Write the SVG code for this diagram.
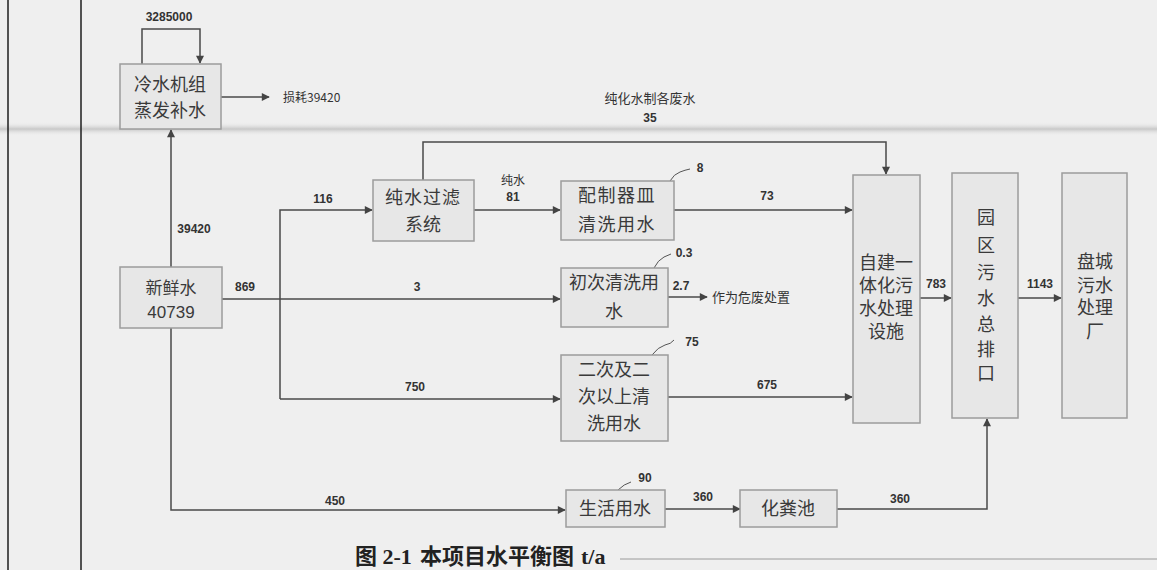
<svg xmlns="http://www.w3.org/2000/svg" width="1157" height="570" viewBox="0 0 1157 570">
<defs>
<marker id="ah" viewBox="0 0 10 10" refX="9" refY="5" markerWidth="10" markerHeight="8" markerUnits="userSpaceOnUse" orient="auto">
<path d="M0 0 L10 5 L0 10 z" fill="#444"/>
</marker>
<linearGradient id="band" x1="0" y1="0" x2="0" y2="1">
<stop offset="0" stop-color="#efefef" stop-opacity="0"/>
<stop offset="0.5" stop-color="#c8c8c8"/>
<stop offset="1" stop-color="#efefef" stop-opacity="0"/>
</linearGradient>
</defs>
<style>
.bx{fill:#e7e7e7;stroke:#9c9c9c;stroke-width:1.5}
.t{font-family:"Liberation Serif","Noto Sans CJK SC",serif;font-size:18px;fill:#3a3a3a;text-anchor:middle}
.n{font-family:"Liberation Sans","Noto Sans CJK SC",sans-serif;font-size:12px;fill:#333;text-anchor:middle;font-weight:bold}
.s{font-family:"Noto Sans CJK SC",sans-serif;font-size:13px;fill:#333}
.e{fill:none;stroke:#4a4a4a;stroke-width:1.5}
.c{fill:none;stroke:#555;stroke-width:1}
</style>
<rect width="1157" height="570" fill="#efefef"/>
<rect x="0" y="122" width="1157" height="14" fill="url(#band)"/>
<line x1="8" y1="0" x2="8" y2="570" stroke="#1e1e1e" stroke-width="1.5"/>
<line x1="81" y1="0" x2="81" y2="570" stroke="#1e1e1e" stroke-width="1.5"/>
<line x1="620" y1="559" x2="1157" y2="559" stroke="#9a9a9a" stroke-width="1"/>

<g id="connectors">
<path class="e" d="M142 64 V29 H200 V63" marker-end="url(#ah)"/>
<path class="e" d="M221 97 H269" marker-end="url(#ah)"/>
<path class="e" d="M171 267 V130" marker-end="url(#ah)"/>
<path class="e" d="M222 299 H560" marker-end="url(#ah)"/>
<path class="e" d="M280 399 V210 H372" marker-end="url(#ah)"/>
<path class="e" d="M280 399 H560" marker-end="url(#ah)"/>
<path class="e" d="M474 210 H560" marker-end="url(#ah)"/>
<path class="e" d="M423 180 V142 H886 V174" marker-end="url(#ah)"/>
<path class="e" d="M674 210 H852" marker-end="url(#ah)"/>
<path class="e" d="M668 297 H707" marker-end="url(#ah)"/>
<path class="e" d="M668 397 H852" marker-end="url(#ah)"/>
<path class="e" d="M920 298 H951" marker-end="url(#ah)"/>
<path class="e" d="M1018 298 H1061" marker-end="url(#ah)"/>
<path class="e" d="M171 328 V510 H565" marker-end="url(#ah)"/>
<path class="e" d="M665 509 H740" marker-end="url(#ah)"/>
<path class="e" d="M837 509 H987 V419" marker-end="url(#ah)"/>
<path class="c" d="M670 181 q4 -7 10 -9 q5 -2 10 -3"/>
<path class="c" d="M654 268 q4 -8 10 -11 l7 -3"/>
<path class="c" d="M652 355 q6 -8 13 -10 q6 -1 9 -5"/>
<path class="c" d="M618 490 q6 -6 13 -8"/>
<text class="n" x="169" y="21">3285000</text>
<text class="s" x="283" y="102" style="font-size:12px">损耗39420</text>
<text class="n" x="194" y="233">39420</text>
<text class="n" x="245" y="291">869</text>
<text class="n" x="417" y="291">3</text>
<text class="n" x="323" y="203">116</text>
<text class="n" x="415" y="391">750</text>
<text class="s" x="513" y="185" style="font-size:12px;text-anchor:middle">纯水</text>
<text class="n" x="513" y="201">81</text>
<text class="s" x="650" y="103" style="text-anchor:middle">纯化水制各废水</text>
<text class="n" x="650" y="122">35</text>
<text class="n" x="767" y="200">73</text>
<text class="n" x="700" y="172">8</text>
<text class="n" x="684" y="257">0.3</text>
<text class="n" x="681" y="290">2.7</text>
<text class="s" x="712" y="302">作为危废处置</text>
<text class="n" x="692" y="346">75</text>
<text class="n" x="767" y="389">675</text>
<text class="n" x="936" y="288">783</text>
<text class="n" x="1040" y="288">1143</text>
<text class="n" x="645" y="482">90</text>
<text class="n" x="335" y="505">450</text>
<text class="n" x="703" y="501">360</text>
<text class="n" x="900" y="503">360</text>
</g>

<g id="cooling">
<rect class="bx" x="120" y="64" width="101" height="65"/>
<text class="t" x="170" y="91">冷水机组</text>
<text class="t" x="170" y="117">蒸发补水</text>
</g>
<g id="freshwater">
<rect class="bx" x="120" y="267" width="102" height="61"/>
<text class="t" x="171" y="294" style="font-family:'Noto Sans CJK SC',sans-serif;font-size:17px">新鲜水</text>
<text class="t" x="171" y="318" style="font-family:'Liberation Sans',sans-serif;font-size:17px">40739</text>
</g>
<g id="purifier">
<rect class="bx" x="373" y="180" width="101" height="61"/>
<text class="t" x="423" y="204" letter-spacing="1">纯水过滤</text>
<text class="t" x="423" y="231">系统</text>
</g>
<g id="dishwash">
<rect class="bx" x="561" y="181" width="113" height="59"/>
<text class="t" x="617" y="202" letter-spacing="1.5">配制器皿</text>
<text class="t" x="617" y="231" letter-spacing="1.5">清洗用水</text>
</g>
<g id="firstwash">
<rect class="bx" x="561" y="268" width="107" height="59"/>
<text class="t" x="614" y="289">初次清洗用</text>
<text class="t" x="614" y="318">水</text>
</g>
<g id="secondwash">
<rect class="bx" x="561" y="355" width="107" height="86"/>
<text class="t" x="614" y="376">二次及二</text>
<text class="t" x="614" y="403">次以上清</text>
<text class="t" x="614" y="430">洗用水</text>
</g>
<g id="treatment">
<rect class="bx" x="853" y="175" width="67" height="248"/>
<text class="t" x="886" y="269">自建一</text>
<text class="t" x="886" y="292">体化污</text>
<text class="t" x="886" y="315">水处理</text>
<text class="t" x="886" y="338">设施</text>
</g>
<g id="outlet">
<rect class="bx" x="952" y="173" width="66" height="245"/>
<text class="t" x="986" y="224">园</text>
<text class="t" x="986" y="252">区</text>
<text class="t" x="986" y="279">污</text>
<text class="t" x="986" y="305">水</text>
<text class="t" x="986" y="331">总</text>
<text class="t" x="986" y="356">排</text>
<text class="t" x="986" y="380">口</text>
</g>
<g id="plant">
<rect class="bx" x="1062" y="173" width="65" height="245"/>
<text class="t" x="1095" y="268">盘城</text>
<text class="t" x="1095" y="292">污水</text>
<text class="t" x="1095" y="314">处理</text>
<text class="t" x="1095" y="338">厂</text>
</g>
<g id="domestic">
<rect class="bx" x="566" y="490" width="99" height="37"/>
<text class="t" x="615" y="515">生活用水</text>
</g>
<g id="septic">
<rect class="bx" x="740" y="490" width="97" height="37"/>
<text class="t" x="788" y="515">化粪池</text>
</g>
<g id="title" style="font-family:'Liberation Serif','Noto Sans CJK SC',serif;font-size:22px;font-weight:bold;fill:#222">
<text x="355" y="564">图 2-1</text>
<text x="420" y="564">本项目水平衡图</text>
<text x="581" y="564">t/a</text>
</g>
</svg>
